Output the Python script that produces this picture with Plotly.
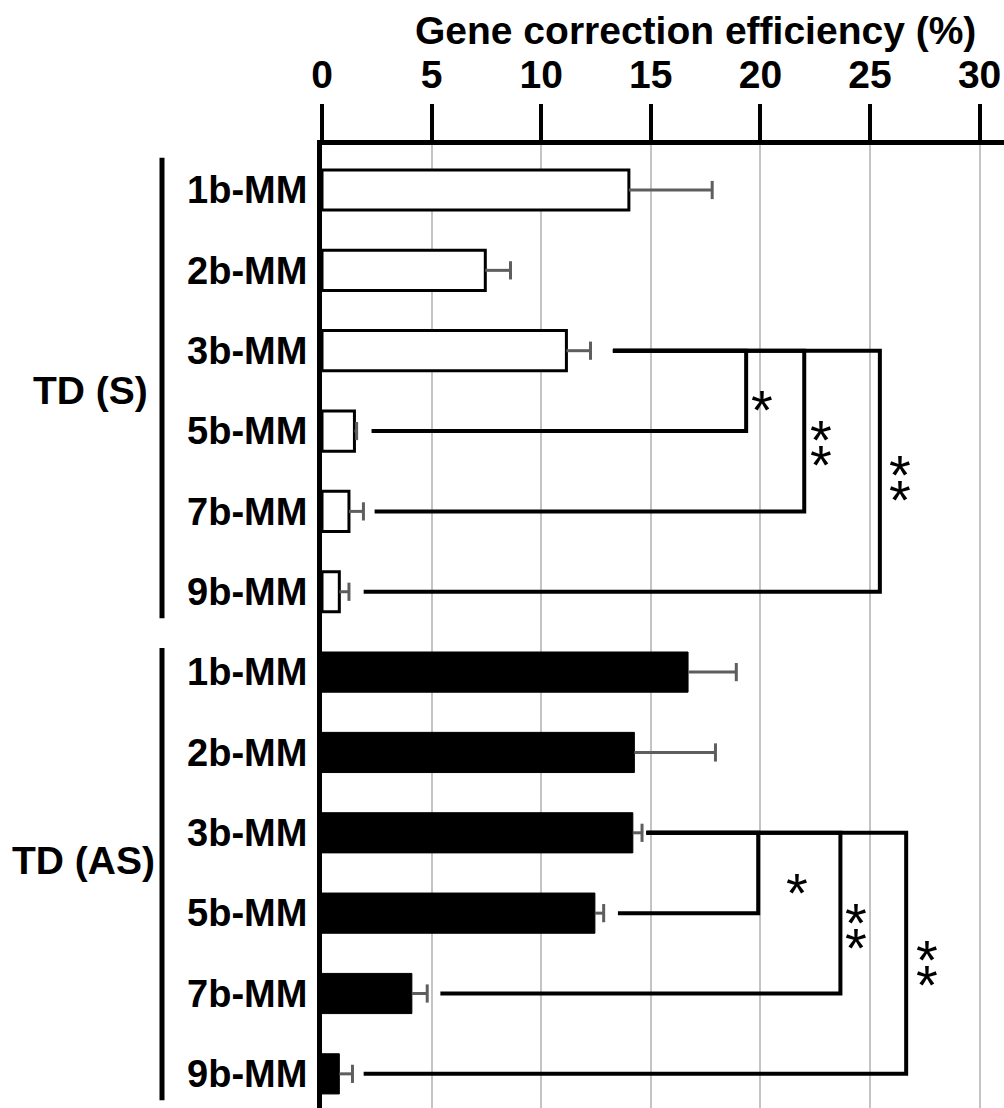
import plotly.graph_objects as go

# ---------------- data ----------------
row_labels = ["1b-MM", "2b-MM", "3b-MM", "5b-MM", "7b-MM", "9b-MM",
              "1b-MM", "2b-MM", "3b-MM", "5b-MM", "7b-MM", "9b-MM"]
group_names = ["TD (S)", "TD (AS)"]

sense_vals = [14.0, 7.45, 11.15, 1.48, 1.23, 0.79]
sense_err = [3.8, 1.15, 1.1, 0.1, 0.66, 0.44]
anti_vals = [16.7, 14.25, 14.18, 12.45, 4.1, 0.79]
anti_err = [2.2, 3.7, 0.42, 0.4, 0.7, 0.6]

x_ticks = [0, 5, 10, 15, 20, 25, 30]
x_title = "Gene correction efficiency (%)"

# significance brackets: (top row, top start, bottom row, bottom start, vertical x)
sense_brackets_top_row = [2, 2, 2]
sense_brackets_top_start = [13.27, 13.27, 13.27]
sense_brackets_bottom_row = [3, 4, 5]
sense_brackets_bottom_start = [2.26, 2.4, 1.9]
sense_brackets_vx = [19.35, 22.0, 25.45]

anti_brackets_top_row = [8, 8, 8]
anti_brackets_top_start = [14.8, 14.8, 14.8]
anti_brackets_bottom_row = [9, 10, 11]
anti_brackets_bottom_start = [13.5, 5.4, 1.9]
anti_brackets_vx = [19.9, 23.65, 26.65]

# significance stars (label, x, row position)
sig_labels = ["*", "**", "**", "*", "**", "**"]
sig_x = [20.07, 22.76, 26.37, 21.67, 24.36, 27.6]
sig_row = [2.564, 3.105, 3.535, 8.575, 9.115, 9.575]

FONT = "Liberation Sans, Arial, Helvetica, sans-serif"

n = len(sense_vals)
sense_rows = list(range(n))
anti_rows = list(range(n, 2 * n))

fig = go.Figure()

fig.add_trace(go.Bar(
    x=sense_vals, y=sense_rows, orientation="h", width=0.5,
    marker=dict(color="white", line=dict(color="black", width=3)),
    showlegend=False, hoverinfo="skip"))
fig.add_trace(go.Bar(
    x=anti_vals, y=anti_rows, orientation="h", width=0.5,
    marker=dict(color="black", line=dict(color="black", width=1)),
    showlegend=False, hoverinfo="skip"))

# error bars (positive side only)
ERR_COLOR = "#5e5e5e"
ex, ey, cx, cy = [], [], [], []
for vals, errs, rws in [(sense_vals, sense_err, sense_rows), (anti_vals, anti_err, anti_rows)]:
    for v, e, r in zip(vals, errs, rws):
        ex += [v, v + e, None]
        ey += [r, r, None]
        cx.append(v + e)
        cy.append(r)
fig.add_trace(go.Scatter(x=ex, y=ey, mode="lines",
                         line=dict(color=ERR_COLOR, width=3),
                         showlegend=False, hoverinfo="skip"))
fig.add_trace(go.Scatter(x=cx, y=cy, mode="markers",
                         marker=dict(symbol="line-ns", size=13,
                                     line=dict(width=3, color=ERR_COLOR)),
                         showlegend=False, hoverinfo="skip"))

# brackets
bx, by = [], []
for tr, ts, br, bs, vx in list(zip(sense_brackets_top_row, sense_brackets_top_start,
                                   sense_brackets_bottom_row, sense_brackets_bottom_start,
                                   sense_brackets_vx)) + \
        list(zip(anti_brackets_top_row, anti_brackets_top_start,
                 anti_brackets_bottom_row, anti_brackets_bottom_start,
                 anti_brackets_vx)):
    bx += [ts, vx, vx, bs, None]
    by += [tr, tr, br, br, None]
fig.add_trace(go.Scatter(x=bx, y=by, mode="lines",
                         line=dict(color="black", width=4),
                         showlegend=False, hoverinfo="skip"))

annotations = []
for lab, x, r in zip(sig_labels, sig_x, sig_row):
    k = len(lab)
    for j in range(k):
        off = (j - (k - 1) / 2) * 25
        annotations.append(dict(
            x=x, y=r, xref="x", yref="y", text="*", showarrow=False,
            xanchor="center", yanchor="middle", yshift=-off - 13,
            font=dict(family=FONT, size=56, color="black")))

# plot area geometry
PLOT_LEFT, PLOT_TOP, PLOT_W, PLOT_H = 322, 145, 682, 963

# title
annotations.append(dict(
    x=(695 - PLOT_LEFT) / PLOT_W, y=1 + (PLOT_TOP - 30) / PLOT_H, xref="paper", yref="paper",
    text=x_title, showarrow=False, xanchor="center", yanchor="middle",
    font=dict(family=FONT, size=39, color="black", weight="bold")))

# group labels
group_label_rows = [2.5, 8.34]
group_label_px = [90, 84]
for name, r, px in zip(group_names, group_label_rows, group_label_px):
    annotations.append(dict(
        x=(px - PLOT_LEFT) / PLOT_W, y=r, xref="paper", yref="y", text=name,
        showarrow=False, xanchor="center", yanchor="middle",
        font=dict(family=FONT, size=39, color="black", weight="bold")))

shapes = []
group_spans = [(-0.4, 5.33), (5.7, 11.33)]
for y0, y1 in group_spans:
    shapes.append(dict(type="line", xref="paper", yref="y",
                       x0=(162 - PLOT_LEFT) / PLOT_W, x1=(162 - PLOT_LEFT) / PLOT_W, y0=y0, y1=y1,
                       line=dict(color="black", width=5)))

fig.update_layout(
    width=1004, height=1108,
    margin=dict(l=PLOT_LEFT, r=0, t=PLOT_TOP, b=0, pad=0, autoexpand=False),
    plot_bgcolor="white", paper_bgcolor="white",
    barmode="overlay",
    annotations=annotations, shapes=shapes,
    xaxis=dict(side="top", range=[0, PLOT_W / 21.92], tickvals=x_ticks,
               automargin=False,
               showline=True, linewidth=5, linecolor="black",
               ticks="outside", ticklen=36, tickwidth=4, tickcolor="black",
               showgrid=True, gridcolor="#c4c4c4", gridwidth=1.5,
               zeroline=False,
               tickfont=dict(family=FONT, size=39, color="black", weight="bold")),
    yaxis=dict(range=[11.425, -0.56], tickvals=list(range(2 * n)), ticktext=row_labels,
               automargin=False,
               showline=True, linewidth=5, linecolor="black",
               ticks="", showgrid=False, zeroline=False, ticklabelstandoff=2,
               tickfont=dict(family=FONT, size=38, color="black", weight="bold")),
)

fig.write_html(
    "out.html",
    config={"displayModeBar": False},
    post_script="document.body.style.margin='0';"
                "document.documentElement.style.overflow='hidden';"
                "document.body.style.overflow='hidden';")
